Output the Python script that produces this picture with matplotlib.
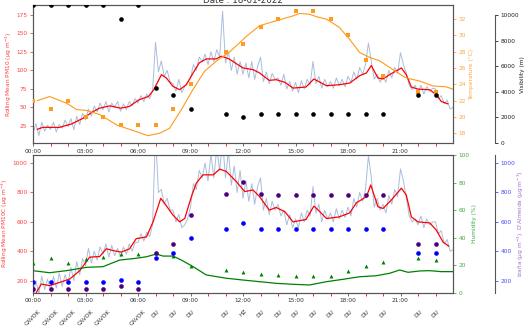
import matplotlib
matplotlib.use('Agg')
import matplotlib.pyplot as plt
import matplotlib.transforms as mtransforms
from matplotlib.ticker import FixedLocator, FuncFormatter, MultipleLocator

title_text = "Date : 18-01-2022"

# ---------------- hourly observations ----------------
obs_hours = [0, 1, 2, 3, 4, 5, 6, 7, 8, 9, 11, 12, 13, 14, 15, 16, 17, 18, 19, 20, 22, 23]
temp_obs = [22, 21, 22, 20, 20, 19, 19, 19, 21, 24, 28, 29, 31, 32, 33, 33, 32, 30, 27, 25, 23, 23]
vis_obs = [10750, 10750, 10750, 10750, 10750, 9700, 10750, 4300, 3760, 2670, 2280, 2050,
           2260, 2260, 2260, 2260, 2260, 2260, 2260, 2260, 3760, 3760]
hum_obs = [21.3, 25, 21.3, 24.5, 26, 28, 28, 29, 26.6, 19.4, 16.5, 15.3, 13.6, 12.9, 12.1,
           12.1, 12.1, 15.8, 19.6, 22.5, 25.4, 23.7]
izana_obs = [143, 143, 143, 143, 143, 162, 143, 387, 447, 650, 787, 874, 787, 785, 785, 785,
             785, 785, 785, 785, 447, 447]
dalmeida_obs = [193, 193, 193, 193, 193, 205, 193, 355, 387, 490, 552, 593, 552, 552, 552,
                552, 552, 552, 552, 552, 387, 387]

wx_hours = [0, 1, 2, 3, 4, 6, 7, 8, 9, 11, 12, 13, 14, 15, 16, 17, 18, 19, 20, 22, 23]
wx_codes = ["CAVOK", "CAVOK", "CAVOK", "CAVOK", "CAVOK", "CAVOK", "DU", "DU", "DU", "DU", "HZ",
            "DU", "DU", "DU", "DU", "DU", "DU", "DU", "DU", "DU", "DU"]

# ---------------- continuous temperature ----------------
temp_t = [0.25, 0.95, 1.9, 2.5, 3.05, 3.8, 4.8, 5.9, 6.57, 7.24, 7.8, 8.48, 9.15, 9.8, 10.5,
          11.2, 12.2, 12.95, 13.9, 14.86, 15.24, 15.8, 16.2, 16.77, 17.5, 18.1, 18.67, 19.24,
          19.8, 20.57, 21.3, 22.1, 22.86, 23.6, 24.0]
temp_v = [22.0, 22.5, 21.7, 20.9, 20.8, 20.3, 19.0, 18.2, 17.7, 18.0, 18.6, 20.9, 23.4, 25.6,
          26.9, 27.9, 29.9, 31.2, 31.8, 32.4, 32.7, 32.6, 32.3, 32.0, 31.0, 29.5, 27.9, 27.3,
          26.9, 25.8, 24.8, 24.4, 23.8, 23.7, 23.4]

# ---------------- continuous humidity ----------------
hum_t = [0, 0.95, 1.9, 3.05, 4.0, 4.95, 5.9, 6.48, 7.05, 7.43, 8.0, 8.48, 9.15, 9.9, 11.05,
         12.0, 12.95, 13.9, 14.86, 15.8, 16.77, 17.7, 18.67, 19.6, 20.38, 20.95, 21.43,
         22.1, 22.67, 23.33, 24.0]
hum_v = [16.0, 14.5, 16.0, 18.4, 18.9, 23.7, 25.0, 26.1, 28.1, 26.6, 26.6, 23.7, 18.9, 12.9,
         10.5, 9.2, 8.0, 6.8, 6.1, 5.6, 8.0, 9.7, 11.6, 12.3, 14.1, 16.5, 14.8, 15.8, 16.0,
         15.3, 15.3]

# ---------------- rolling mean PM10 (top) ----------------
pm10_roll_t = [0.25, 0.57, 1.5, 2.2, 2.86, 3.43, 3.8, 4.4, 5.0, 5.5, 6.05, 6.6, 6.9, 7.34, 7.62,
               8.0, 8.38, 8.76, 9.15, 9.5, 9.9, 10.47, 10.76, 11.2, 12.0, 12.57, 12.95, 13.5,
               13.9, 14.4, 14.86, 15.6, 16.05, 16.3, 16.77, 17.5, 18.1, 18.67, 19.05, 19.33,
               19.71, 20.0, 20.38, 21.05, 21.33, 21.62, 22.0, 22.67, 23.05, 23.33, 23.7]
pm10_roll_v = [20.5, 23.2, 23.0, 27.7, 35.4, 44.4, 49.0, 52.2, 49.0, 51.3, 60.3, 64.9, 74.0,
               94.3, 89.8, 78.5, 74.0, 80.7, 96.6, 110.2, 115.6, 115.6, 119.2, 115.6, 103.4,
               101.1, 96.6, 86.6, 87.5, 83.9, 76.2, 77.6, 88.5, 85.3, 79.4, 80.7, 83.0, 93.0,
               96.6, 106.6, 89.8, 88.5, 94.3, 103.4, 94.3, 77.6, 74.8, 73.9, 67.1, 58.1, 54.9]

# raw PM10, 10-minute readings from 00:00 to 24:00
pm10_raw = [15, 28, 12, 30, 18, 26,
            20, 30, 17, 27, 22, 33,
            24, 35, 20, 38, 27, 42,
            33, 48, 38, 52, 44, 56,
            47, 58, 44, 56, 50, 58,
            45, 55, 47, 58, 52, 62,
            56, 66, 58, 68, 62, 72,
            138, 98, 113, 92, 100, 85,
            82, 72, 88, 70, 78, 84,
            90, 108, 100, 118, 112, 122,
            108, 125, 112, 128, 118, 180,
            110, 125, 100, 118, 95, 112,
            95, 110, 90, 112, 88, 105,
            118, 85, 98, 82, 96, 88,
            90, 80, 95, 75, 85, 72,
            84, 70, 86, 75, 88, 80,
            112, 82, 92, 76, 88, 78,
            85, 76, 90, 80, 88, 78,
            92, 84, 98, 88, 104, 95,
            108, 137, 112, 88, 95, 84,
            92, 84, 100, 90, 104, 96,
            124, 108, 96, 80, 74, 80,
            70, 80, 68, 78, 72, 76,
            75, 62, 66, 55, 60, 48,
            50]

# ---------------- rolling mean PM10C (bottom) ----------------
pm10c_roll_t = [0.19, 0.48, 0.95, 1.52, 2.1, 2.67, 3.24, 3.81, 4.19, 4.57, 5.05, 5.52, 5.9,
                6.48, 6.86, 7.3, 7.52, 8.0, 8.38, 8.67, 9.05, 9.33, 9.71, 10.3, 10.67, 11.05,
                11.62, 12.1, 12.57, 12.95, 13.5, 13.9, 14.4, 14.86, 15.6, 16.05, 16.3, 16.77,
                17.5, 18.1, 18.48, 19.05, 19.3, 19.71, 20.0, 20.48, 21.05, 21.33, 21.62, 22.0,
                22.67, 23.05, 23.43, 23.75]
pm10c_roll_v = [120, 177, 166, 188, 211, 268, 360, 364, 417, 405, 394, 417, 486, 497, 600,
                760, 726, 646, 600, 623, 771, 863, 920, 920, 959, 943, 874, 806, 817, 771,
                680, 698, 668, 600, 616, 707, 680, 623, 634, 661, 730, 771, 851, 703, 691,
                749, 829, 783, 634, 600, 593, 543, 463, 435]

pm10c_raw = [90, 200, 110, 230, 140, 210,
             130, 230, 150, 250, 160, 240,
             180, 290, 200, 330, 240, 350,
             300, 420, 320, 400, 340, 430,
             380, 450, 360, 440, 370, 420,
             360, 430, 380, 450, 400, 460,
             460, 520, 470, 530, 500, 580,
             1200, 800, 820, 720, 760, 680,
             680, 600, 650, 560, 580, 620,
             700, 860, 820, 950, 900, 1000,
             880, 1060, 900, 1100, 950, 1150,
             900, 1080, 850, 980, 800, 950,
             760, 880, 740, 860, 720, 840,
             900, 680, 760, 650, 740, 680,
             720, 640, 680, 580, 650, 560,
             620, 560, 660, 600, 680, 640,
             840, 660, 720, 600, 680, 620,
             660, 600, 690, 620, 680, 630,
             700, 640, 760, 700, 800, 740,
             820, 1050, 900, 700, 760, 680,
             720, 660, 780, 720, 820, 770,
             960, 880, 760, 640, 600, 620,
             580, 640, 560, 620, 580, 600,
             600, 520, 540, 450, 480, 400,
             410]

raw_t = [i / 6 for i in range(len(pm10_raw))]

# ---------------- styling ----------------
FS = 4.2
C_RED_TXT = '#ff4040'
C_ORANGE = '#ff9a1a'
C_ORANGE_TXT = '#ffa640'
C_GREEN = 'green'
C_GREEN_TXT = '#3fae3f'
C_BLUE_TXT = '#4a4aff'
C_PURPLE_TXT = '#a070d0'
C_SPINE = '#555555'
C_RAW = '#a8bedc'

fig = plt.figure(figsize=(5.25, 3.26), dpi=100)
L, R = 33 / 525, 453 / 525
ax1 = fig.add_axes([L, 1 - 143 / 326, R - L, (143 - 5.3) / 326])
ax2 = fig.add_axes([L, 1 - 292.7 / 326, R - L, (292.7 - 155) / 326])

hour_fmt = FuncFormatter(lambda v, p: f"{int(round(v)) % 24:02d}:00")


def style_x(ax):
    ax.set_xlim(0, 24)
    ax.set_xticks([0, 3, 6, 9, 12, 15, 18, 21])
    ax.xaxis.set_minor_locator(FixedLocator([h for h in range(24) if h % 3 != 0]))
    ax.xaxis.set_major_formatter(hour_fmt)
    ax.tick_params(axis='x', which='major', labelsize=FS, length=2.5, width=0.6,
                   color=C_SPINE, labelcolor='#333333', pad=1.5)
    ax.tick_params(axis='x', which='minor', length=2.5, width=0.6, color='red')
    for s in ax.spines.values():
        s.set_color(C_SPINE)
        s.set_linewidth(0.8)


def style_spines(ax):
    for s in ax.spines.values():
        s.set_color(C_SPINE)
        s.set_linewidth(0.8)


# ================= TOP PANEL =================
ax1.plot(raw_t, pm10_raw, color=C_RAW, lw=0.7, zorder=1)
ax1.plot(pm10_roll_t, pm10_roll_v, color='red', lw=0.9, zorder=3)
ax1.set_ylim(2, 188)
ax1.set_yticks([25, 50, 75, 100, 125, 150, 175])
ax1.tick_params(axis='y', labelsize=FS, length=2.5, width=0.6, colors=C_RED_TXT, pad=1.5)
ax1.set_ylabel("Rolling Mean PM10 (µg m$^{-3}$)", color=C_RED_TXT, fontsize=FS, labelpad=2)
style_x(ax1)
ax1.set_title(title_text, fontsize=6.3, color='#333333', pad=1.2)

ax1t = ax1.twinx()
ax1t.plot(temp_t, temp_v, color=C_ORANGE, lw=0.8, zorder=2)
ax1t.scatter(obs_hours, temp_obs, marker='s', s=9, color=C_ORANGE, zorder=4, linewidths=0)
ax1t.set_ylim(16.8, 33.7)
ax1t.set_yticks([18, 20, 22, 24, 26, 28, 30, 32])
ax1t.tick_params(axis='y', labelsize=FS, length=2.5, width=0.6, colors=C_ORANGE_TXT, pad=1.5)
ax1t.set_ylabel("Temperature (°C)", color=C_ORANGE_TXT, fontsize=FS, labelpad=2)
style_spines(ax1t)

ax1v = ax1.twinx()
ax1v.spines['right'].set_position(('axes', 1.1))
ax1v.scatter(obs_hours, vis_obs, s=11, color='black', zorder=5, linewidths=0)
ax1v.set_ylim(0, 10750)
ax1v.set_yticks([0, 2000, 4000, 6000, 8000, 10000])
ax1v.spines['right'].set_bounds(0, 10000)
ax1v.spines['right'].set_color(C_SPINE)
ax1v.spines['right'].set_linewidth(0.8)
for k in ['top', 'left', 'bottom']:
    ax1v.spines[k].set_visible(False)
ax1v.tick_params(axis='y', labelsize=FS, length=2.5, width=0.6, colors='#222222', pad=1.5)
ax1v.set_ylabel("Visibility (m)", color='#222222', fontsize=FS, labelpad=0.5)

# ================= BOTTOM PANEL =================
ax2.plot(raw_t, pm10c_raw, color=C_RAW, lw=0.7, zorder=1)
ax2.plot(pm10c_roll_t, pm10c_roll_v, color='red', lw=0.9, zorder=3)
ax2.set_ylim(118, 1055)
ax2.set_yticks([200, 400, 600, 800, 1000])
ax2.tick_params(axis='y', labelsize=FS, length=2.5, width=0.6, colors=C_RED_TXT, pad=1.5)
ax2.set_ylabel("Rolling Mean PM10C (µg m$^{-3}$)", color=C_RED_TXT, fontsize=FS, labelpad=2)
style_x(ax2)

trans = mtransforms.blended_transform_factory(ax2.transData, ax2.transAxes)
for h, code in zip(wx_hours, wx_codes):
    ax2.text(h, -0.115, code, transform=trans, rotation=45, ha='center', va='top',
             fontsize=FS, color='#333333')

ax2h = ax2.twinx()
ax2h.plot(hum_t, hum_v, color=C_GREEN, lw=0.9, zorder=2)
ax2h.scatter(obs_hours, hum_obs, marker='^', s=8, color=C_GREEN, zorder=4, linewidths=0)
ax2h.set_ylim(0, 100)
ax2h.set_yticks([0, 20, 40, 60, 80, 100])
ax2h.tick_params(axis='y', labelsize=FS, length=2.5, width=0.6, colors=C_GREEN_TXT, pad=1.5)
ax2h.set_ylabel("Humidity (%)", color=C_GREEN_TXT, fontsize=FS, labelpad=2)
style_spines(ax2h)

ax2a = ax2.twinx()
ax2a.spines['right'].set_position(('axes', 1.1))
ax2a.scatter(obs_hours, dalmeida_obs, s=11, color='blue', zorder=5, linewidths=0)
ax2a.scatter(obs_hours, izana_obs, s=11, color='indigo', zorder=5, linewidths=0)
ax2a.set_ylim(118, 1055)
ax2a.set_yticks([200, 400, 600, 800, 1000])
ax2a.spines['right'].set_color(C_SPINE)
ax2a.spines['right'].set_linewidth(0.8)
for k in ['top', 'left', 'bottom']:
    ax2a.spines[k].set_visible(False)
ax2a.tick_params(axis='y', labelsize=FS, length=2.5, width=0.6, colors=C_BLUE_TXT, pad=1.5)
ax2a.set_ylabel("Izaña (µg m$^{-3}$)  D'Almeida (µg m$^{-3}$)", color=C_PURPLE_TXT,
                fontsize=FS, labelpad=0.5)

fig.savefig("out.png", dpi=100)
